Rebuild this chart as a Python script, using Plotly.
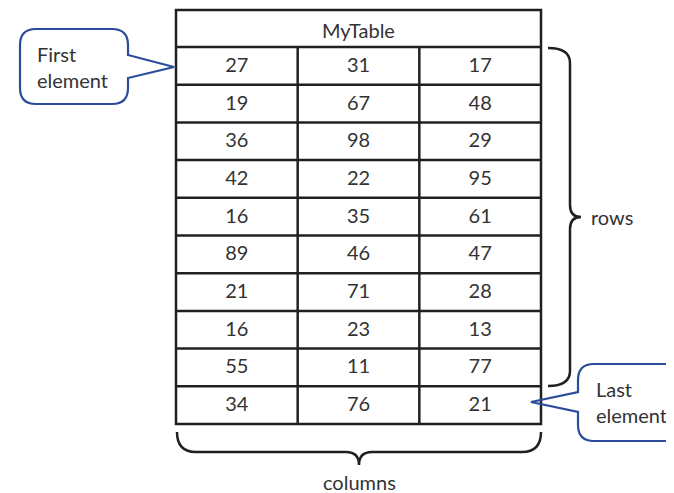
import plotly.graph_objects as go

# ---- data ----
table_title = "MyTable"
col1 = [27, 19, 36, 42, 16, 89, 21, 16, 55, 34]
col2 = [31, 67, 98, 22, 35, 46, 71, 23, 11, 76]
col3 = [17, 48, 29, 95, 61, 47, 28, 13, 77, 21]
columns = [col1, col2, col3]
label_first = "First<br>element"
label_last = "Last<br>element"
label_rows = "rows"
label_cols = "columns"

W, H = 674, 493
OFF = 8  # page body margin
FONT = "Lato"
FS = 20
TXT = "#333333"
LINE = "#231f20"
BLUE = "#2b4c9b"

# table geometry
x0, x1 = 176, 541
y_top, y_head = 10, 47
y_bot = 424
n_rows = len(col1)
n_cols = len(columns)
rh = (y_bot - y_head) / n_rows
cw = (x1 - x0) / n_cols

fig = go.Figure()

# numbers in cells
xs, ys, ts = [], [], []
for c, vals in enumerate(columns):
    for r, v in enumerate(vals):
        xs.append(x0 + cw * (c + 0.5))
        ys.append(y_head + rh * (r + 0.5) + 1)
        ts.append(str(v))
fig.add_trace(go.Scatter(x=xs, y=ys, text=ts, mode="text",
                         textfont=dict(family=FONT, size=FS, color=TXT),
                         hoverinfo="skip", showlegend=False))

shapes = []
shapes.append(dict(type="rect", x0=x0, x1=x1, y0=y_top, y1=y_bot,
                   line=dict(color=LINE, width=2.5)))
for r in range(n_rows):
    y = y_head + rh * r
    shapes.append(dict(type="line", x0=x0, x1=x1, y0=y, y1=y,
                       line=dict(color=LINE, width=2.5)))
for c in range(1, n_cols):
    x = x0 + cw * c
    shapes.append(dict(type="line", x0=x, x1=x, y0=y_head, y1=y_bot,
                       line=dict(color=LINE, width=2.5)))

# callout: First element
l, t, rr, b, rad = 20, 29, 128, 104, 16
p = (f"M {l+rad},{t} L {rr-rad},{t} Q {rr},{t} {rr},{t+rad} L {rr},55 L 174,67 L {rr},78 "
     f"L {rr},{b-rad} Q {rr},{b} {rr-rad},{b} L {l+rad},{b} Q {l},{b} {l},{b-rad} "
     f"L {l},{t+rad} Q {l},{t} {l+rad},{t} Z")
shapes.append(dict(type="path", path=p, line=dict(color=BLUE, width=2.2)))

# callout: Last element
l, t, rr, b, rad = 578, 364, 700, 441, 16
p = (f"M {rr},{t} L {l+rad},{t} Q {l},{t} {l},{t+rad} L {l},392 L 531,402 L {l},412 "
     f"L {l},{b-rad} Q {l},{b} {l+rad},{b} L {rr},{b}")
shapes.append(dict(type="path", path=p, line=dict(color=BLUE, width=2.2)))

# brace: rows
p = ("M 548,48 Q 570,48 570,63 L 570,205 Q 570,217 581,217 Q 570,217 570,229 "
     "L 570,371 Q 570,386 548,386")
shapes.append(dict(type="path", path=p, line=dict(color=LINE, width=2.5)))

# brace: columns
p = ("M 177,432 Q 177,452 196,452 L 346,452 Q 359,452 359,465 Q 359,452 372,452 "
     "L 522,452 Q 541,452 541,432")
shapes.append(dict(type="path", path=p, line=dict(color=LINE, width=2.5)))

annotations = [
    dict(x=(x0 + x1) / 2, y=(y_top + y_head) / 2 + 1, text=table_title, showarrow=False,
         font=dict(family=FONT, size=FS, color=TXT)),
    dict(x=35, y=67, text=label_first, showarrow=False, xanchor="left", align="left",
         font=dict(family=FONT, size=FS, color=TXT)),
    dict(x=594, y=402, text=label_last, showarrow=False, xanchor="left", align="left",
         font=dict(family=FONT, size=FS, color=TXT)),
    dict(x=589, y=217, text=label_rows, showarrow=False, xanchor="left",
         font=dict(family=FONT, size=FS, color=TXT)),
    dict(x=359, y=482, text=label_cols, showarrow=False,
         font=dict(family=FONT, size=FS, color=TXT)),
]

fig.update_layout(
    width=W - OFF, height=H - OFF, margin=dict(l=0, r=0, t=0, b=0),
    paper_bgcolor="white", plot_bgcolor="white",
    xaxis=dict(range=[OFF, W], visible=False, fixedrange=True),
    yaxis=dict(range=[H, OFF], visible=False, fixedrange=True),
    shapes=shapes, annotations=annotations, showlegend=False,
)
fig.write_html("out.html", config={"displayModeBar": False})
